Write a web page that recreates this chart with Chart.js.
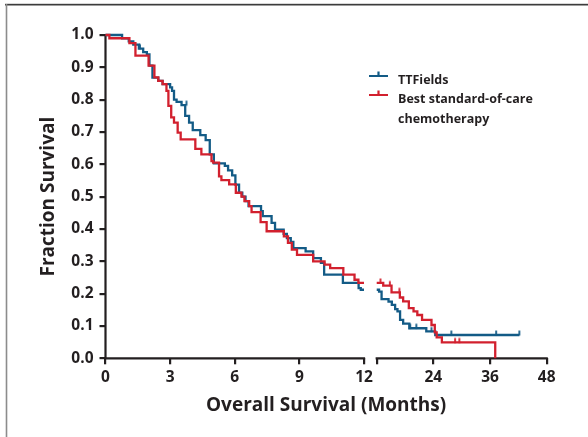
<!DOCTYPE html>
<html><head><meta charset="utf-8">
<script src="https://cdn.jsdelivr.net/npm/chart.js@4"></script>
<style>html,body{margin:0;padding:0;background:#fff;overflow:hidden}canvas{display:block}</style>
</head><body>
<canvas id="c" width="588" height="437"></canvas>
<script>
// ---------- data (months / fraction surviving) ----------
const ttTimes = [0,0.77,1.08,1.29,1.55,1.75,1.92,2.04,2.18,2.45,2.65,3.00,3.09,3.18,3.30,3.53,3.70,3.88,4.05,4.40,4.65,4.84,5.03,5.54,5.69,5.88,6.03,6.20,6.35,6.50,6.64,7.22,7.30,7.71,7.87,8.27,8.42,8.60,8.72,9.29,9.64,10.00,10.15,11.02,11.75,11.85,12.50,13.03,14.50,15.20,15.90,16.40,16.95,17.60,18.90,22.50,24.40];
const ttSurv  = [1.0,0.99,0.98,0.97,0.958,0.947,0.94,0.905,0.868,0.858,0.848,0.838,0.827,0.80,0.793,0.783,0.75,0.729,0.706,0.69,0.675,0.631,0.603,0.595,0.581,0.566,0.537,0.512,0.50,0.486,0.471,0.455,0.44,0.419,0.398,0.385,0.372,0.36,0.341,0.331,0.31,0.295,0.259,0.233,0.217,0.212,0.206,0.183,0.175,0.165,0.152,0.145,0.119,0.107,0.093,0.083,0.072];
const ttEnd = 42.2;
const ttCensorT = [1.6,3.76,19.1,20.4,23.6,27.8,37.3,42.2];
const ttCensorS = [0.958,0.783,0.093,0.093,0.083,0.072,0.072,0.072];

const socTimes = [0,0.18,1.11,1.39,2.00,2.27,2.45,2.65,2.83,2.92,3.05,3.18,3.35,3.49,4.17,4.45,4.92,5.00,5.27,5.38,5.74,6.05,6.31,6.45,6.67,6.78,7.20,7.48,8.28,8.47,8.65,8.89,9.64,10.17,10.43,11.04,11.56,11.74,13.38,15.14,16.90,17.60,18.80,19.80,20.60,21.60,23.60,24.30,24.70,25.80,37.10];
const socSurv  = [1.0,0.99,0.975,0.936,0.905,0.869,0.858,0.848,0.827,0.781,0.745,0.729,0.698,0.677,0.648,0.631,0.61,0.605,0.563,0.551,0.538,0.512,0.50,0.486,0.471,0.452,0.421,0.393,0.377,0.357,0.336,0.32,0.30,0.29,0.279,0.259,0.243,0.233,0.225,0.204,0.188,0.176,0.155,0.145,0.134,0.119,0.103,0.08,0.065,0.049,0.0];
const socEnd = 37.1;
const socCensorT = [12.8,14.78,16.8,28.6,29.5];
const socCensorS = [0.233,0.225,0.204,0.049,0.049];

const xTickMonths = [0,3,6,9,12,24,36,48];
const xTickLabels = ['0','3','6','9','12','24','36','48'];
const seriesNames = ['TTFields','Best standard-of-care','chemotherapy'];

// ---------- broken x axis: 0-12 linear, then 12-48 compressed ----------
const BREAK_AT = 12, GAP = 0.59, K2 = 0.2192;
function u(t){ return t <= BREAK_AT ? t : BREAK_AT + GAP + (t - BREAK_AT) * K2; }
const X_MAX = u(48);
const xTickVals = [], xTickText = [];
xTickMonths.forEach((m,i)=>{
  xTickVals.push(u(m)); xTickText.push(xTickLabels[i]);
  if (m === BREAK_AT){ xTickVals.push(BREAK_AT + GAP); xTickText.push(''); }
});

function kmPoints(times, surv, end){
  const pts = []; let last = null, broke = false;
  for (let i = 0; i < times.length; i++){
    const t = times[i];
    if (!broke && t > BREAK_AT){
      pts.push({x:u(BREAK_AT), y:last});
      pts.push({x:BREAK_AT + GAP/2, y:null});
      pts.push({x:BREAK_AT + GAP, y:last});
      broke = true;
    }
    pts.push({x:u(t), y:surv[i]}); last = surv[i];
  }
  if (end > times[times.length-1]) pts.push({x:u(end), y:last});
  return pts;
}
function censorPoints(T, S){ return T.map((t,i)=>({x:u(t), y:S[i]})); }

const BLUE = '#135b86', RED = '#d2202e', INK = '#231f20';
function tickImg(color){
  const c = document.createElement('canvas'); c.width = 4; c.height = 12;
  const g = c.getContext('2d'); g.strokeStyle = color; g.lineWidth = 1.8;
  g.beginPath(); g.moveTo(2, 1.5); g.lineTo(2, 6.5); g.stroke();
  return c;
}

const FONT = "'Open Sans', 'Noto Sans', sans-serif";

const framePlugin = {
  id:'frame',
  beforeDraw(chart){
    const ctx = chart.ctx; ctx.save();
    ctx.fillStyle = '#fff'; ctx.fillRect(0,0,chart.width,chart.height);
    ctx.fillStyle = '#d8d8d8'; ctx.fillRect(5,3,chart.width,1);
    ctx.fillStyle = '#3c3c3c'; ctx.fillRect(5,4,chart.width,1.5);
    ctx.fillStyle = '#8c8c8c'; ctx.fillRect(5.7,4,1.6,chart.height);
    ctx.restore();
  }
};
const axisPlugin = {
  id:'axisLines',
  beforeDatasetsDraw(chart){
    const {ctx, chartArea:a, scales:{x, y}} = chart;
    ctx.save(); ctx.strokeStyle = INK; ctx.lineWidth = 2.2; ctx.lineCap = 'butt';
    ctx.beginPath();
    ctx.moveTo(a.left, y.getPixelForValue(1) - 1.1); ctx.lineTo(a.left, a.bottom + 1.1);
    ctx.moveTo(a.left - 1.1, a.bottom); ctx.lineTo(x.getPixelForValue(u(BREAK_AT)) + 1.1, a.bottom);
    ctx.moveTo(x.getPixelForValue(BREAK_AT + GAP) - 1.1, a.bottom); ctx.lineTo(x.getPixelForValue(X_MAX) + 1.1, a.bottom);
    ctx.stroke(); ctx.restore();
  }
};
const legendPlugin = {
  id:'kmLegend',
  afterDraw(chart){
    const ctx = chart.ctx; ctx.save();
    const items = [{c:BLUE, y:76, lines:[seriesNames[0]]},{c:RED, y:95, lines:[seriesNames[1], seriesNames[2]]}];
    ctx.font = "bold 12.5px " + FONT; ctx.textBaseline = 'middle'; ctx.textAlign = 'left';
    items.forEach(it=>{
      ctx.strokeStyle = it.c; ctx.lineWidth = 2.2;
      ctx.beginPath(); ctx.moveTo(369, it.y); ctx.lineTo(388, it.y);
      ctx.moveTo(378.5, it.y); ctx.lineTo(378.5, it.y - 4.5); ctx.stroke();
      ctx.fillStyle = INK;
      it.lines.forEach((s,j)=> ctx.fillText(s, 398, it.y + 4.5 + j*19.5));
    });
    ctx.restore();
  }
};

new Chart(document.getElementById('c'), {
  type:'line',
  data:{ datasets:[
    {label:'Best standard-of-care chemotherapy', data:kmPoints(socTimes, socSurv, socEnd), borderColor:RED, borderWidth:2.3, stepped:'before', pointRadius:0, fill:false, spanGaps:false, clip:false},
    {label:'TTFields', data:kmPoints(ttTimes, ttSurv, ttEnd), borderColor:BLUE, borderWidth:2.3, stepped:'before', pointRadius:0, fill:false, spanGaps:false, clip:false},
    {label:'soc censored', data:censorPoints(socCensorT, socCensorS), showLine:false, pointStyle:tickImg(RED), pointRadius:3, clip:false},
    {label:'tt censored', data:censorPoints(ttCensorT, ttCensorS), showLine:false, pointStyle:tickImg(BLUE), pointRadius:3, clip:false}
  ]},
  options:{
    responsive:false, animation:false, devicePixelRatio:1,
    layout:{padding:{left:0, right:41.3, top:35, bottom:0}},
    plugins:{legend:{display:false}, tooltip:{enabled:false}},
    events:[],
    scales:{
      x:{ type:'linear', min:0, max:X_MAX, bounds:'data',
        afterBuildTicks(s){ s.ticks = xTickVals.map(v=>({value:v})); },
        afterFit(s){ s.height = 437 - 358.3; },
        ticks:{ autoSkip:false, maxRotation:0, padding:3.5, color:INK, font:{family:FONT, size:15.5, weight:'bold'},
          callback(v, i){ return xTickText[i]; } },
        grid:{ display:true, drawOnChartArea:false, drawTicks:true, tickLength:6, color:INK, lineWidth:2.2 },
        border:{ display:false },
        title:{ display:true, text:'Overall Survival (Months)', color:INK, font:{family:FONT, size:19, weight:'bold'}, padding:{top:0, bottom:20} }
      },
      y:{ min:0, max:1, bounds:'data',
        afterFit(s){ s.width = 105.5; },
        ticks:{ stepSize:0.1, padding:6, color:INK, font:{family:FONT, size:15.5, weight:'bold'},
          callback(v){ return Number(v).toFixed(1); } },
        grid:{ display:true, drawOnChartArea:false, drawTicks:true, tickLength:6, color:INK, lineWidth:2.2 },
        border:{ display:false },
        title:{ display:true, text:'Fraction Survival', color:INK, font:{family:FONT, size:19, weight:'bold'}, padding:{top:37, bottom:0} }
      }
    }
  },
  plugins:[framePlugin, axisPlugin, legendPlugin]
});
</script>
</body></html>
